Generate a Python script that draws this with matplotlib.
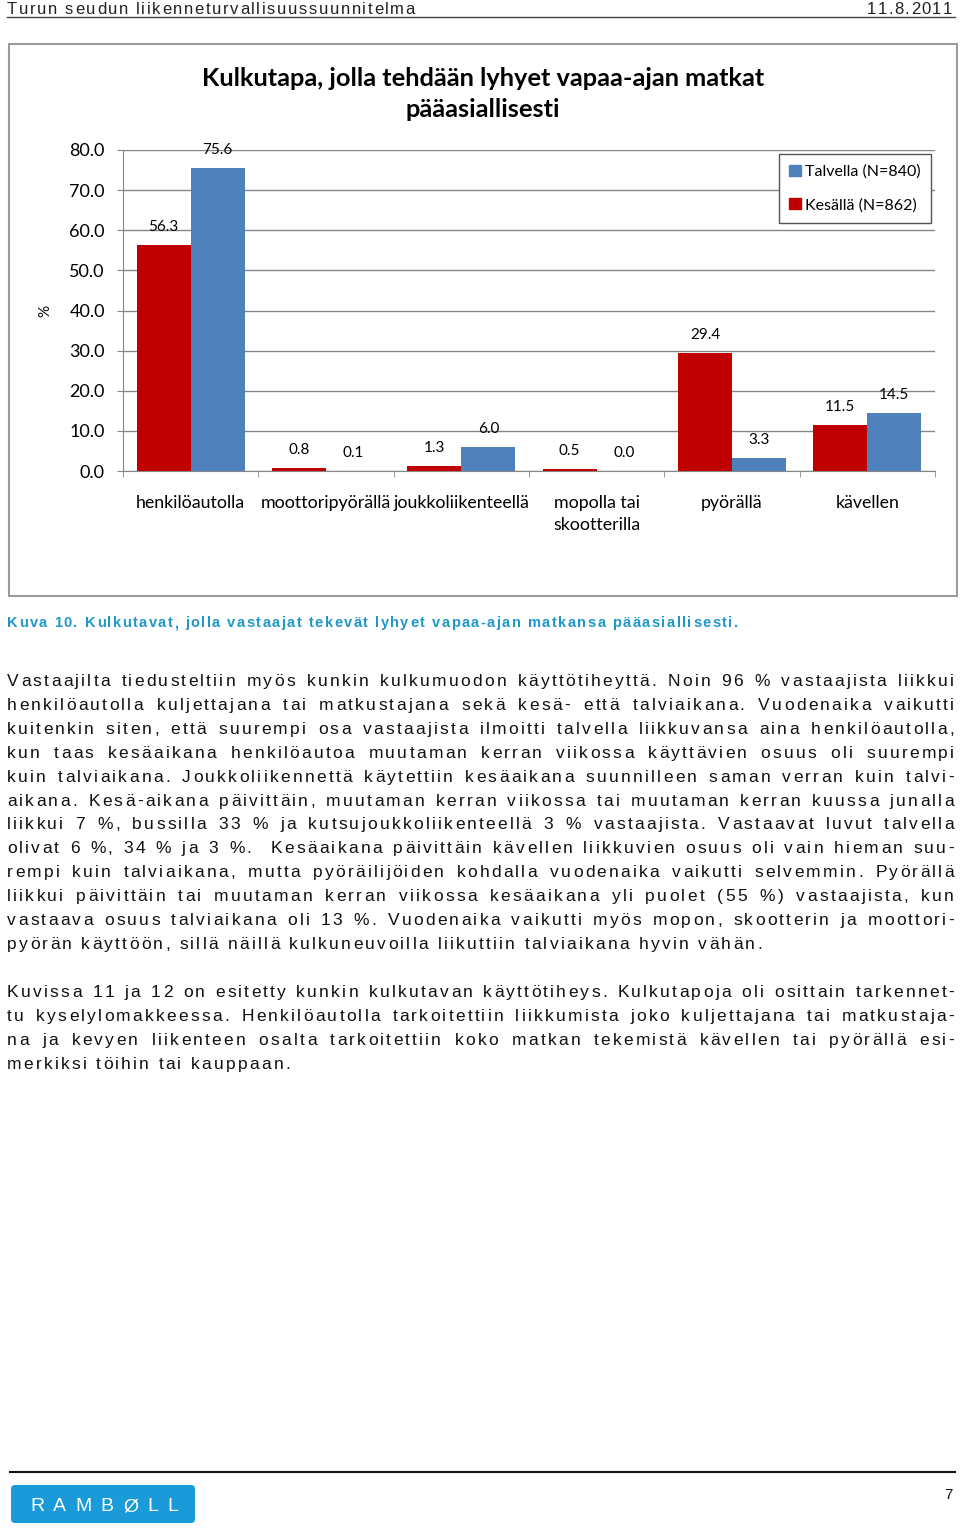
import numpy as np
from matplotlib import pyplot as plt
from matplotlib.patches import Rectangle, FancyBboxPatch, Patch

W, H = 960, 1530

CATEGORIES = ["henkilöautolla", "moottoripyörällä", "joukkoliikenteellä",
              "mopolla tai\nskootterilla", "pyörällä", "kävellen"]
KESALLA = [56.3, 0.8, 1.3, 0.5, 29.4, 11.5]
TALVELLA = [75.6, 0.1, 6.0, 0.0, 3.3, 14.5]
SERIES_NAMES = ["Talvella (N=840)", "Kesällä (N=862)"]
Y_TICKS = [0, 10, 20, 30, 40, 50, 60, 70, 80]

TITLE = "Kulkutapa, jolla tehdään lyhyet vapaa-ajan matkat\npääasiallisesti"
HEADER_LEFT = "Turun seudun liikenneturvallisuussuunnitelma"
HEADER_RIGHT = "11.8.2011"
CAPTION = "Kuva 10. Kulkutavat, jolla vastaajat tekevät lyhyet vapaa-ajan matkansa pääasiallisesti."

PARA1 = [
    "Vastaajilta tiedusteltiin myös kunkin kulkumuodon käyttötiheyttä. Noin 96 % vastaajista liikkui",
    "henkilöautolla kuljettajana tai matkustajana sekä kesä- että talviaikana. Vuodenaika vaikutti",
    "kuitenkin siten, että suurempi osa vastaajista ilmoitti talvella liikkuvansa aina henkilöautolla,",
    "kun taas kesäaikana henkilöautoa muutaman kerran viikossa käyttävien osuus oli suurempi",
    "kuin talviaikana. Joukkoliikennettä käytettiin kesäaikana suunnilleen saman verran kuin talvi-",
    "aikana. Kesä-aikana päivittäin, muutaman kerran viikossa tai muutaman kerran kuussa junalla",
    "liikkui 7 %, bussilla 33 % ja kutsujoukkoliikenteellä 3 % vastaajista. Vastaavat luvut talvella",
    "olivat 6 %, 34 % ja 3 %.  Kesäaikana päivittäin kävellen liikkuvien osuus oli vain hieman suu-",
    "rempi kuin talviaikana, mutta pyöräilijöiden kohdalla vuodenaika vaikutti selvemmin. Pyörällä",
    "liikkui päivittäin tai muutaman kerran viikossa kesäaikana yli puolet (55 %) vastaajista, kun",
    "vastaava osuus talviaikana oli 13 %. Vuodenaika vaikutti myös mopon, skootterin ja moottori-",
    "pyörän käyttöön, sillä näillä kulkuneuvoilla liikuttiin talviaikana hyvin vähän.",
]
PARA2 = [
    "Kuvissa 11 ja 12 on esitetty kunkin kulkutavan käyttötiheys. Kulkutapoja oli osittain tarkennet-",
    "tu kyselylomakkeessa. Henkilöautolla tarkoitettiin liikkumista joko kuljettajana tai matkustaja-",
    "na ja kevyen liikenteen osalta tarkoitettiin koko matkan tekemistä kävellen tai pyörällä esi-",
    "merkiksi töihin tai kauppaan.",
]

RED = "#C00000"
BLUE = "#4F81BD"
GRID = "#868686"
CHART_FONT = "Lato"
BODY_FONT = "Liberation Sans"
BODY_SIZE = 12.5

fig = plt.figure(figsize=(W / 100, H / 100), dpi=100)
page = fig.add_axes([0, 0, 1, 1])
page.set_xlim(0, W)
page.set_ylim(H, 0)
page.axis("off")
renderer = fig.canvas.get_renderer()

_metrics = {}


def width_of(s, size, weight):
    t = page.text(0, 0, s, fontsize=size, family=BODY_FONT, fontweight=weight)
    w = t.get_window_extent(renderer).width
    t.remove()
    return w


def metrics(c, size, weight):
    # advance width and left bearing offset of one glyph
    key = (c, size, weight)
    if key not in _metrics:
        adv = width_of("n" + c + "n", size, weight) - width_of("nn", size, weight)
        lsb = 0.0
        if c != " ":
            lsb = (width_of("n" + c, size, weight) - width_of(c, size, weight)
                   - (width_of("nn", size, weight) - width_of("n", size, weight)))
        _metrics[key] = (adv, lsb)
    return _metrics[key]


def fit_tracking(s, x0, x1, size, weight="normal"):
    natural = sum(metrics(c, size, weight)[0] for c in s)
    return (x1 - x0 - natural) / (len(s) - 1)


def tracked(s, x0, y, size, tracking=None, x1=None, justify=False,
            weight="normal", color="#111111", align="left"):
    # draws a line of letter-spaced text, optionally justified to x1
    m = [metrics(c, size, weight) for c in s]
    natural = sum(a for a, _ in m)
    if tracking is None:
        tracking = (x1 - x0 - natural) / (len(s) - 1)
    extra = 0.0
    n_space = s.count(" ")
    if justify and n_space:
        extra = (x1 - x0 - natural - tracking * (len(s) - 1)) / n_space
    if align == "right":
        x0 = x0 - (natural + tracking * (len(s) - 1))
    x = x0
    for c, (a, lsb) in zip(s, m):
        if c != " ":
            page.text(x + lsb, y, c, fontsize=size, family=BODY_FONT,
                      fontweight=weight, color=color, ha="left", va="baseline")
        x += a + tracking + (extra if c == " " else 0)


# header
tracked(HEADER_LEFT, 7, 14, 12, x1=415, color="#222222")
tracked(HEADER_RIGHT, 952, 14, 12, tracking=1.4, align="right", color="#222222")
page.plot([7, 955], [17, 17], color="#444444", lw=1)

# chart frame
page.add_patch(Rectangle((9, 44), 948, 552, fill=False, ec="#9a9a9a", lw=1.5))
page.text(483, 94, TITLE, fontsize=18.3, fontweight="bold", family=CHART_FONT,
          ha="center", va="center", linespacing=1.45)
page.text(45, 311, "%", fontsize=11, family=CHART_FONT, rotation=90,
          ha="center", va="center")

ax = fig.add_axes([123 / W, 1 - 471 / H, (935 - 123) / W, (471 - 150) / H])
ax.patch.set_alpha(0)
x = np.arange(len(CATEGORIES))
b1 = ax.bar(x - 0.2, KESALLA, 0.4, color=RED, zorder=3)
b2 = ax.bar(x + 0.2, TALVELLA, 0.4, color=BLUE, zorder=3)
for bars, vals in ((b1, KESALLA), (b2, TALVELLA)):
    for b, v in zip(bars, vals):
        ax.annotate(f"{v:.1f}", (b.get_x() + b.get_width() / 2, v),
                    xytext=(0, 13), textcoords="offset points",
                    ha="center", va="center", fontsize=11, family=CHART_FONT)

ax.set_xlim(-0.5, len(CATEGORIES) - 0.5)
ax.set_ylim(0, 80)
ax.set_yticks(Y_TICKS)
ax.set_yticklabels([f"{v:.1f}" for v in Y_TICKS], fontsize=13, family=CHART_FONT)
ax.yaxis.grid(True, color=GRID, lw=1, zorder=0)
ax.set_xticks(x)
ax.set_xticklabels(CATEGORIES, fontsize=12.8, family=CHART_FONT, linespacing=1.5)
ax.set_xticks(np.arange(-0.5, len(CATEGORIES)), minor=True)
ax.tick_params(axis="x", which="major", length=0, pad=17)
ax.tick_params(axis="x", which="minor", length=4, color=GRID, direction="out")
ax.tick_params(axis="y", length=4, color=GRID, pad=9)
for s in ("top", "right"):
    ax.spines[s].set_visible(False)
for s in ("left", "bottom"):
    ax.spines[s].set_color(GRID)

handles = [Patch(color=BLUE), Patch(color=RED)]
leg = ax.legend(handles, SERIES_NAMES, loc="upper left",
                bbox_to_anchor=(779 / W, 1 - 154 / H), bbox_transform=fig.transFigure,
                borderaxespad=0, fancybox=False, edgecolor="#555555", framealpha=1,
                prop={"family": CHART_FONT, "size": 11.5},
                handlelength=0.7, handleheight=0.7, handletextpad=0.3,
                labelspacing=1.2, borderpad=0.65)
leg.get_frame().set_linewidth(1)

# caption
tracked(CAPTION, 7, 627, 10.5, x1=738, weight="bold", color="#1f97c9")

# body text, letter spacing taken from the last (unjustified) line
track = fit_tracking(PARA1[-1], 7, 762, BODY_SIZE)
for i, line in enumerate(PARA1):
    tracked(line, 7, 686 + i * 23.9, BODY_SIZE, tracking=track, x1=954,
            justify=i < len(PARA1) - 1)
for i, line in enumerate(PARA2):
    tracked(line, 7, 997 + i * 23.9, BODY_SIZE, tracking=track, x1=954,
            justify=i < len(PARA2) - 1)

# footer
page.plot([10, 955], [1472, 1472], color="#111111", lw=1.5)
page.add_patch(FancyBboxPatch((11, 1485), 184, 38,
                              boxstyle="round,pad=0,rounding_size=4",
                              fc="#1a9ad8", ec="none"))
tracked("RAMBØLL", 30, 1511, 14, x1=178, color="white")
page.text(948, 1499, "7", fontsize=11, family=BODY_FONT, ha="center",
          va="baseline", color="#111111")

fig.savefig("out.png", dpi=100)
